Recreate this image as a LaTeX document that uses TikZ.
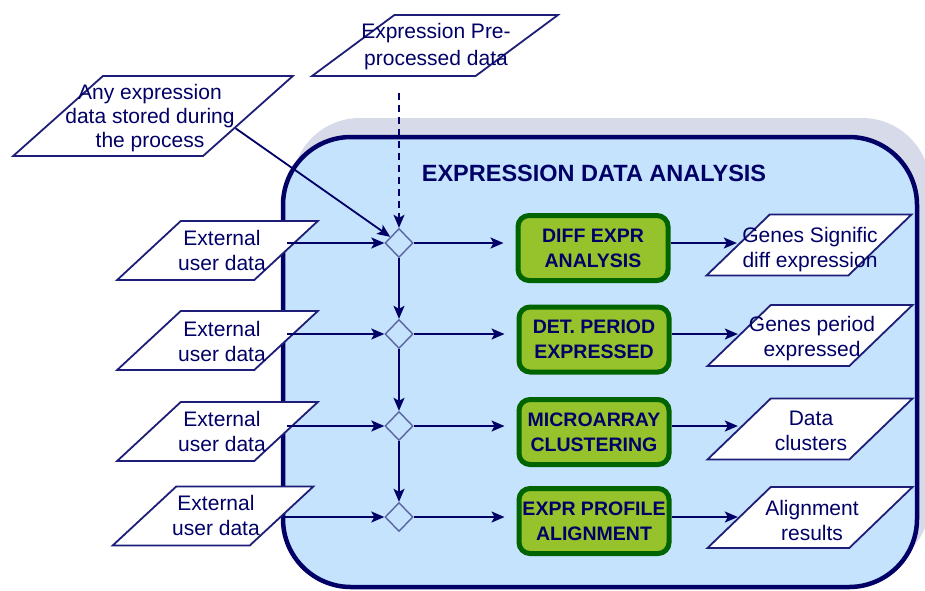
\documentclass[tikz,border=0pt]{standalone}
\usepackage{fontspec}
\setmainfont{Liberation Sans}
\usetikzlibrary{shapes.geometric,arrows.meta,calc}
\definecolor{navy}{RGB}{0,0,102}
\definecolor{boxc}{RGB}{197,227,252}
\definecolor{shadowc}{RGB}{214,218,233}
\definecolor{greenf}{RGB}{150,194,43}
\definecolor{greend}{RGB}{0,100,0}
\definecolor{parab}{RGB}{30,30,120}
\definecolor{dmdb}{RGB}{90,100,160}
\newcommand{\ph}{\phantom{X}}
\tikzset{
  para/.style={trapezium, trapezium stretches=true, draw=parab, fill=white,
    line width=1.8pt, inner sep=0pt},
  extbox/.style={para, trapezium left angle=50, trapezium right angle=130,
    minimum width=201pt, minimum height=59pt},
  outbox/.style={para, trapezium left angle=52, trapezium right angle=128,
    minimum width=205pt, minimum height=61pt},
  ptext/.style={text=navy, inner sep=0pt, align=center,
    font=\fontsize{21}{25}\selectfont},
  dmd/.style={diamond, draw=dmdb, fill=boxc, line width=1.4pt, inner sep=0pt,
    minimum width=28pt, minimum height=29pt},
  procbox/.style={rectangle, rounded corners=11pt, draw=greend, fill=greenf,
    line width=5pt, minimum width=150pt, minimum height=65pt, inner sep=0pt,
    text=navy, align=center, font=\bfseries\fontsize{19.5}{25}\selectfont},
  conn/.style={draw=navy, line width=1.8pt,
    -{Stealth[length=13pt,width=11pt,inset=3pt]}},
  titletext/.style={text=navy, font=\bfseries\fontsize{23.5}{28}\selectfont}
}
\begin{document}
\begin{tikzpicture}[x=1pt,y=-1pt]
\useasboundingbox (0,0) rectangle (925,590);
\fill[white] (0,0) rectangle (925,590);
% container
\fill[shadowc, rounded corners=68pt] (292,118) rectangle (930,570);
\draw[navy, line width=4.5pt, fill=boxc, rounded corners=68pt] (283,137) rectangle (917,587);
\node[titletext] (title) at (594,173) {EXPRESSION DATA ANALYSIS};
% top inputs
\node[para, trapezium left angle=49, trapezium right angle=131,
  minimum width=280pt, minimum height=80pt] (any) at (153,116) {\ph};
\node[ptext, font=\fontsize{21}{24}\selectfont] (anyt) at (150,118.5)
  {Any expression\\data stored during\\the process};
\node[para, trapezium left angle=45.5, trapezium right angle=134.5,
  minimum width=246pt, minimum height=61pt] (pre) at (435,45.5) {\ph};
\node[ptext, font=\fontsize{21}{27}\selectfont] (pret) at (436,46.5)
  {Expression Pre-\\processed data};
% diamonds
\node[dmd] (d1) at (399,243) {};
\node[dmd] (d2) at (399,334) {};
\node[dmd] (d3) at (399,426) {};
\node[dmd] (d4) at (399,517) {};
% external inputs
\node[extbox] (e1) at (217.5,250.5) {\ph};
\node[extbox] (e2) at (217.5,340.5) {\ph};
\node[extbox] (e3) at (217.5,431.5) {\ph};
\node[extbox] (e4) at (213,516) {\ph};
\node[ptext] (e1t) at (222,250.5) {External\\user data};
\node[ptext] (e2t) at (222,341) {External\\user data};
\node[ptext] (e3t) at (222,431.5) {External\\user data};
\node[ptext] (e4t) at (216,515) {External\\user data};
% process boxes
\node[procbox] (g1) at (593,248) {DIFF EXPR\\ANALYSIS};
\node[procbox] (g2) at (594,339.5) {DET. PERIOD\\EXPRESSED};
\node[procbox] (g3) at (594,432) {MICROARRAY\\CLUSTERING};
\node[procbox] (g4) at (594,521) {EXPR PROFILE\\ALIGNMENT};
% outputs
\node[outbox] (o1) at (809,245) {\ph};
\node[outbox] (o2) at (810,335.5) {\ph};
\node[outbox] (o3) at (810,429) {\ph};
\node[outbox] (o4) at (810,517.5) {\ph};
\node[ptext] (o1t) at (810,249.5) {Genes Signific\\diff expression};
\node[ptext] (o2t) at (812,339) {Genes period\\expressed};
\node[ptext] (o3t) at (811,430.5) {Data\\clusters};
\node[ptext] (o4t) at (812,520) {Alignment\\results};
% connectors
\draw[conn, dash pattern=on 7pt off 5pt, shorten <=16pt] (pre.south -| d1) -- (d1);
\draw[conn] ($(any.top right corner)!0.65!(any.bottom right corner)$) -- (d1);
\foreach \i in {1,2,3,4}{
  \draw[conn] (e\i.east |- d\i) -- (d\i);
  \draw[conn, shorten >=12pt] (d\i) -- (d\i -| g\i.west);
  \draw[conn] (g\i.east |- d\i) -- (d\i -| o\i.west);
}
\draw[conn] (d1) -- (d2);
\draw[conn] (d2) -- (d3);
\draw[conn] (d3) -- (d4);
\end{tikzpicture}
\end{document}
